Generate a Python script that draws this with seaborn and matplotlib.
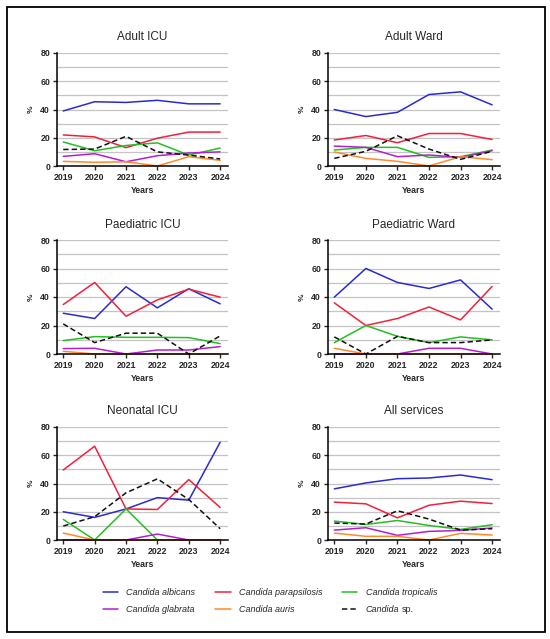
"""Candida species distribution by service, 2019-2024."""
import matplotlib
matplotlib.use("Agg")
import matplotlib.pyplot as plt
import pandas as pd
import seaborn as sns
from matplotlib.lines import Line2D
from matplotlib.patches import Rectangle

YEARS = [2019, 2020, 2021, 2022, 2023, 2024]
SPECIES = ["albicans", "parapsilosis", "tropicalis", "glabrata", "auris", "sp."]

ADULT_ICU = {
    "albicans": [39, 45.5, 45, 46.5, 44, 44],
    "parapsilosis": [22, 20.6, 13, 19.7, 24, 24],
    "tropicalis": [17, 10.8, 14.5, 16.4, 7.7, 12.7],
    "glabrata": [6.8, 8.7, 3, 7.3, 9.2, 10],
    "auris": [3.3, 2.6, 3, 0, 6.6, 4],
    "sp.": [11.7, 12, 21, 10, 7.7, 5],
}
ADULT_WARD = {
    "albicans": [40, 35, 38, 50.6, 52.5, 43.3],
    "parapsilosis": [18.4, 21.6, 16.5, 23, 23, 18.8],
    "tropicalis": [11.3, 13.2, 13.2, 6.1, 6.6, 11.3],
    "glabrata": [14.1, 13.2, 6.6, 7.8, 6.1, 10.8],
    "auris": [9.9, 5.4, 3.3, 0, 6.6, 4.5],
    "sp.": [5.4, 10.4, 21.4, 12, 4.7, 10.4],
}
PAED_ICU = {
    "albicans": [28.6, 24.9, 47.2, 32.4, 45.8, 35.2],
    "parapsilosis": [34.7, 50.2, 26.5, 38, 45.5, 39.9],
    "tropicalis": [9.4, 12.2, 11.7, 11.7, 11.5, 7.3],
    "glabrata": [3.8, 4, 0, 2.8, 2.8, 5.2],
    "auris": [1.9, 0, 0, 0, 0, 0],
    "sp.": [21.1, 8, 14.6, 14.6, 0, 12.7],
}
PAED_WARD = {
    "albicans": [39.9, 60, 50.2, 46, 52, 31.5],
    "parapsilosis": [35.9, 20, 24.9, 33, 23.9, 47.4],
    "tropicalis": [8, 20, 12.4, 8, 12, 9.9],
    "glabrata": [0, 0, 0, 4, 4, 0],
    "auris": [4, 0, 0, 0, 0, 0],
    "sp.": [12, 0, 12.4, 8, 8, 9.9],
}
NEO_ICU = {
    "albicans": [20, 16, 22, 30, 28.2, 69.2],
    "parapsilosis": [49.6, 66.4, 22, 21.6, 42.8, 23],
    "tropicalis": [14.6, 0, 22, 0, 0, 0],
    "glabrata": [0, 0, 0, 4.2, 0, 0],
    "auris": [4.9, 0, 0, 0, 0, 0],
    "sp.": [9.9, 16.5, 33.4, 43.3, 28.7, 8],
}
ALL_SERVICES = {
    "albicans": [36.2, 40.4, 43.4, 43.9, 46, 42.7],
    "parapsilosis": [26.8, 25.6, 15.7, 24.6, 27.5, 25.8],
    "tropicalis": [13.4, 11, 13.8, 10.3, 7.5, 10.8],
    "glabrata": [7, 8.7, 3.3, 6.1, 6.8, 8.5],
    "auris": [4.9, 2.6, 2.6, 0, 4.7, 3.5],
    "sp.": [12, 11.3, 20.7, 14.8, 7, 8],
}

PANELS = [
    ("Adult ICU", ADULT_ICU),
    ("Adult Ward", ADULT_WARD),
    ("Paediatric ICU", PAED_ICU),
    ("Paediatric Ward", PAED_WARD),
    ("Neonatal ICU", NEO_ICU),
    ("All services", ALL_SERVICES),
]

COLORS = {
    "albicans": "#2a2ad2",
    "parapsilosis": "#f2203c",
    "tropicalis": "#22c022",
    "glabrata": "#b41ed2",
    "auris": "#ff8a2a",
    "sp.": "#111111",
}
DASHES = {s: "" for s in SPECIES}
DASHES["sp."] = (3.5, 2)

# "sp." is added upright after the legend is drawn
LABELS = {
    "albicans": "Candida albicans",
    "parapsilosis": "Candida parapsilosis",
    "tropicalis": "Candida tropicalis",
    "glabrata": "Candida glabrata",
    "auris": "Candida auris",
    "sp.": "Candida",
}

sns.set_theme(style="white")
plt.rcParams["font.family"] = ["Liberation Sans", "DejaVu Sans"]

W, H = 550, 639
fig = plt.figure(figsize=(W / 100, H / 100), dpi=100)

# axes boxes in pixels: (left, right) and (top, bottom)
COLS = [(57, 228), (328, 500)]
ROWS = [(53, 166), (240, 354), (427, 540)]


def _long(data: dict) -> pd.DataFrame:
    rows = []
    for sp in SPECIES:
        for yr, v in zip(YEARS, data[sp]):
            rows.append({"year": yr, "pct": v, "species": sp})
    return pd.DataFrame(rows)


for i, (title, data) in enumerate(PANELS):
    l, r = COLS[i % 2]
    t, b = ROWS[i // 2]
    ax = fig.add_axes([l / W, 1 - b / H, (r - l) / W, (b - t) / H])
    for y in range(10, 90, 10):
        ax.axhline(y, color="#c4c4c4", lw=0.9, zorder=0)
    df = _long(data)
    sns.lineplot(
        data=df, x="year", y="pct", hue="species", style="species",
        hue_order=SPECIES, style_order=SPECIES, palette=COLORS,
        dashes=DASHES, linewidth=1.1, legend=False, ax=ax, clip_on=False,
    )
    ax.set_xlim(2018.8, 2024.25)
    ax.set_ylim(0, 80)
    ax.set_xticks(YEARS)
    ax.set_yticks([0, 20, 40, 60, 80])
    ax.set_title(title, fontsize=8.5, pad=9)
    ax.set_xlabel("Years", fontsize=6.3, fontweight="bold", labelpad=3)
    ax.set_ylabel("%", fontsize=6, fontweight="bold", labelpad=4)
    ax.tick_params(axis="both", direction="out", length=3, width=1,
                   labelsize=6.3, pad=2, left=True, bottom=True)
    for lab in ax.get_xticklabels() + ax.get_yticklabels():
        lab.set_fontweight("bold")
    for side in ["top", "right"]:
        ax.spines[side].set_visible(False)
    for side in ["left", "bottom"]:
        ax.spines[side].set_color("black")
        ax.spines[side].set_linewidth(1.1)
    ax.grid(False)

order = ["albicans", "glabrata", "parapsilosis", "auris", "tropicalis", "sp."]
handles = [
    Line2D([0], [0], color=COLORS[s], lw=1.1,
           linestyle=(0, (3.5, 2)) if s == "sp." else "-")
    for s in order
]
leg = fig.legend(handles, [LABELS[s] for s in order], ncol=3, frameon=False,
                 loc="center", bbox_to_anchor=(270 / W, 1 - 601 / H),
                 prop={"size": 6.5, "style": "italic"},
                 handlelength=1.7, handletextpad=0.9,
                 columnspacing=2.2, labelspacing=0.9)

fig.canvas.draw()
sp_text = leg.get_texts()[-1]
bb = sp_text.get_window_extent()
base = sp_text.get_transform().transform(sp_text.get_position())
fig.text((bb.x1 + 2.5) / fig.bbox.width, base[1] / fig.bbox.height, "sp.",
         fontsize=6.5, ha="left", va="baseline")

fig.patches.append(Rectangle((7 / W, 1 - 632 / H), 538 / W, 625 / H,
                             transform=fig.transFigure, fill=False,
                             edgecolor="black", lw=1.3))

fig.savefig("out.png", dpi=100)
